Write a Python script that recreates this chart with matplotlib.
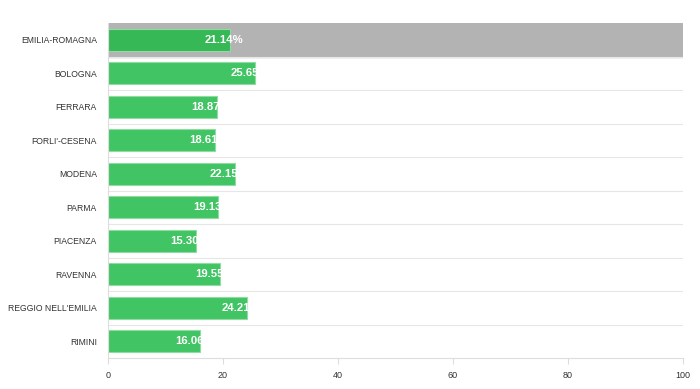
import matplotlib.pyplot as plt

categories = ["EMILIA-ROMAGNA", "BOLOGNA", "FERRARA", "FORLI'-CESENA", "MODENA",
              "PARMA", "PIACENZA", "RAVENNA", "REGGIO NELL'EMILIA", "RIMINI"]
values = [21.14, 25.65, 18.87, 18.61, 22.15, 19.13, 15.30, 19.55, 24.21, 16.06]
xticks = [0, 20, 40, 60, 80, 100]

plt.rcParams['font.family'] = ['Liberation Sans', 'DejaVu Sans']

fig = plt.figure(figsize=(7, 3.89), dpi=100)
ax = fig.add_axes([108 / 700, 1 - 358 / 389, 575 / 700, 335 / 389])

n = len(categories)
ypos = list(range(n))

# highlighted first row
ax.axhspan(-0.5, 0.5, color='#b3b3b3', zorder=0)

# row separators
for i in range(1, n):
    ax.axhline(i - 0.5, color='#e6e6e6', lw=0.8, zorder=0.5)

colors = ['#37b856'] + ['#41c463'] * (n - 1)
ax.barh(ypos, values, height=0.67, color=colors, edgecolor='#8fdca2', lw=0.8, zorder=2)

for i, v in enumerate(values):
    ax.text(v + 2.3, i, f"{v:.2f}%", ha='right', va='center', color='white',
            fontsize=8.2, fontweight='bold', zorder=3)

ax.set_xlim(0, 100)
ax.set_ylim(n - 0.5, -0.5)
ax.set_yticks(ypos)
ax.set_yticklabels(categories, fontsize=6.2, color='#333333')
ax.set_xticks(xticks)
ax.set_xticklabels([str(t) for t in xticks], fontsize=6.5, color='#333333')

ax.tick_params(axis='y', length=0, pad=8)
ax.tick_params(axis='x', length=4, color='#dddddd', pad=5)

for s in ['top', 'right']:
    ax.spines[s].set_visible(False)
ax.spines['left'].set_color('#dddddd')
ax.spines['bottom'].set_color('#dddddd')

fig.savefig('out.png', dpi=100)
